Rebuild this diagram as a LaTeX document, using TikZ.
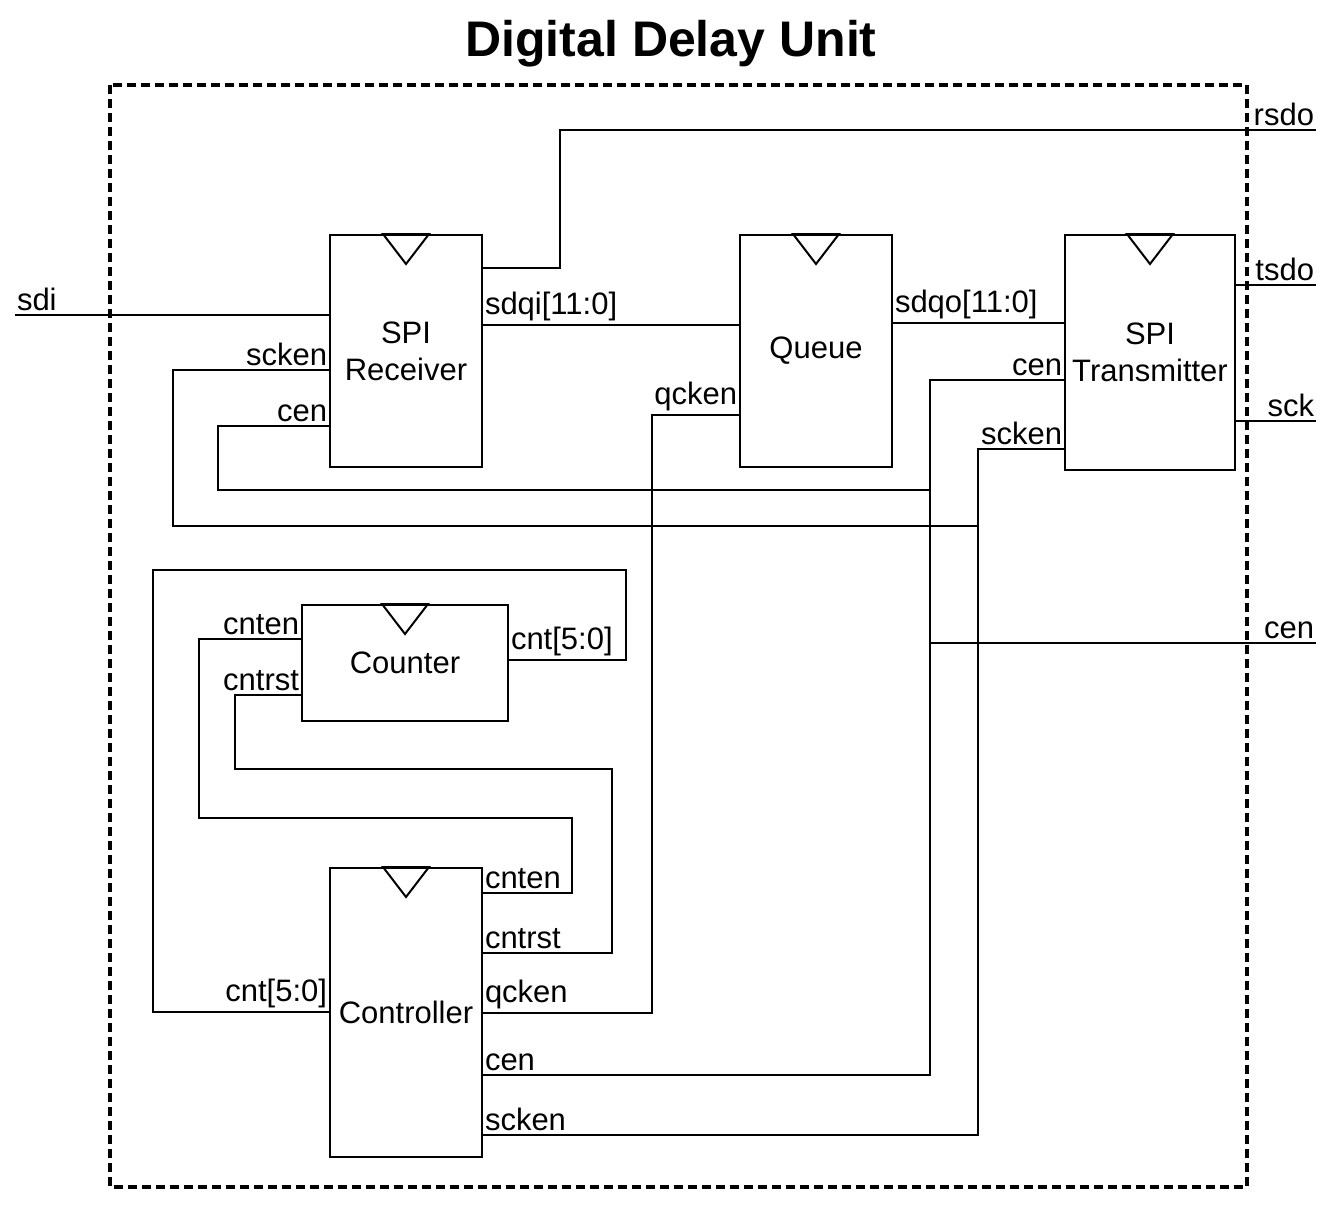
\documentclass[tikz,border=0pt]{standalone}
\usepackage{fontspec}
\setmainfont{Liberation Sans}
\usetikzlibrary{positioning}
\begin{document}
\begin{tikzpicture}[x=1pt,y=-1pt,line width=2pt,
	blk/.style={draw,minimum width=152pt,minimum height=232pt,inner sep=0pt,align=center,font=\fontsize{31}{37}\selectfont},
	lbl/.style={font=\fontsize{31}{36}\selectfont,inner xsep=1pt,inner ysep=3.5pt}]
	\useasboundingbox (0,0) rectangle (1334,1219);
	\node[anchor=base,font=\bfseries\fontsize{50}{60}\selectfont] (title) at (671,56) {Digital Delay Unit};
	\draw[line width=3.5pt,dash pattern=on 9pt off 5pt] (110,85) rectangle (1247,1187);
	% blocks
	\node[blk] (rx) at (406,351) {SPI\\Receiver};
	\node[blk] (queue) at (816,351) {Queue};
	\node[blk,minimum width=170pt,minimum height=235pt] (tx) at (1150,352.5) {SPI\\Transmitter};
	\node[blk,minimum width=206pt,minimum height=116pt] (counter) at (405,663) {Counter};
	\node[blk,minimum height=289pt] (ctrl) at (406,1012.5) {Controller};
	\foreach \b in {rx,queue,tx,counter,ctrl}
		\draw (\b.north) ++(-23,0) -- ++(23,30) -- ++(23,-30) -- cycle;
	% ports
	\coordinate (sdi) at (15,315);
	\coordinate (rsdo) at (1316,130);
	\coordinate (tsdo) at (1316,285);
	\coordinate (sck) at (1316,421);
	\coordinate (cen) at (1316,643);
	% serial in/out
	\draw (sdi) node[lbl,above right] (lsdi) {sdi} -- (rx.west |- sdi);
	\draw (rx.east |- 0,268) -| (560,130) -- (rsdo) node[lbl,above left] (lrsdo) {rsdo};
	\draw (tx.east |- tsdo) -- (tsdo) node[lbl,above left] (ltsdo) {tsdo};
	\draw (tx.east |- sck) -- (sck) node[lbl,above left] (lsck) {sck};
	% data path
	\draw (rx.east |- 0,325) node[lbl,above right] (lsdqi) {sdqi[11:0]} -- (queue.west |- 0,325);
	\draw (queue.east |- 0,323) node[lbl,above right] (lsdqo) {sdqo[11:0]} -- (tx.west |- 0,323);
	% enables
	\draw (ctrl.east |- 0,1013) node[lbl,above right] (lqc1) {qcken} -| (652,415) -- (queue.west |- 0,415) node[lbl,above left] (lqc2) {qcken};
	\draw (ctrl.east |- 0,1075) node[lbl,above right] (lcen1) {cen} -| (930,380) -- (tx.west |- 0,380) node[lbl,above left] (lcen2) {cen};
	\draw (rx.west |- 0,426) node[lbl,above left] (lcen3) {cen} -| (218,490) -- (930,490);
	\draw (930,643) -- (cen) node[lbl,above left] (lcen4) {cen};
	\draw (ctrl.east |- 0,1135) node[lbl,above right] (lsck1) {scken} -| (978,449) -- (tx.west |- 0,449) node[lbl,above left] (lsck2) {scken};
	\draw (rx.west |- 0,370) node[lbl,above left] (lsck3) {scken} -| (173,526) -- (978,526);
	% counter loop
	\draw (ctrl.east |- 0,893) node[lbl,above right] (lce1) {cnten} -| (572,818) -| (199,639) -- (counter.west |- 0,639) node[lbl,above left] (lce2) {cnten};
	\draw (ctrl.east |- 0,953) node[lbl,above right] (lcr1) {cntrst} -| (612,769) -| (235,695) -- (counter.west |- 0,695) node[lbl,above left] (lcr2) {cntrst};
	\draw (counter.east |- 0,660) node[lbl,above right] (lcnt1) {cnt[5:0]} -| (626,570) -| (153,1012) -- (ctrl.west |- 0,1012) node[lbl,above left] (lcnt2) {cnt[5:0]};
\end{tikzpicture}
\end{document}
